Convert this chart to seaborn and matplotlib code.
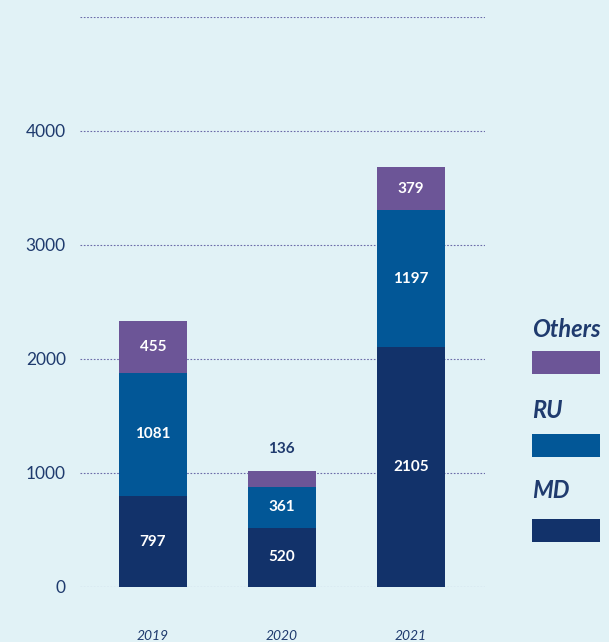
import numpy as np
import pandas as pd
import seaborn as sns
import matplotlib.pyplot as plt
from matplotlib.patches import Rectangle

years = ['2019', '2020', '2021']
md = [797, 520, 2105]
ru = [1081, 361, 1197]
others = [455, 136, 379]

colors = {'MD': '#12326a', 'RU': '#025797', 'Others': '#6c5597'}
bg = '#e1f2f6'
txt = '#1f3b6e'

sns.set_theme(style='white')
plt.rcParams['font.family'] = ['Lato', 'DejaVu Sans']

df = pd.DataFrame({'year': years, 'MD': md, 'RU': ru, 'Others': others})
df['md_ru'] = df['MD'] + df['RU']
df['total'] = df['md_ru'] + df['Others']

fig = plt.figure(figsize=(6.09, 6.42), dpi=100)
fig.patch.set_facecolor(bg)
ax = fig.add_axes([0.131, 0.0857, 0.665, 0.888])
ax.set_facecolor(bg)

# stacked bars drawn as cumulative layers
for col, c in [('total', colors['Others']), ('md_ru', colors['RU']), ('MD', colors['MD'])]:
    sns.barplot(data=df, x='year', y=col, color=c, width=0.53, saturation=1,
                linewidth=0, ax=ax, zorder=3)

# labels in the middle of each segment
for i in range(len(years)):
    ax.text(i, md[i] / 2, str(md[i]), ha='center', va='center', color='white',
            fontsize=11, fontweight='bold', zorder=5)
    ax.text(i, md[i] + ru[i] / 2, str(ru[i]), ha='center', va='center', color='white',
            fontsize=11, fontweight='bold', zorder=5)
    if others[i] > 200:
        ax.text(i, md[i] + ru[i] + others[i] / 2, str(others[i]), ha='center', va='center',
                color='white', fontsize=11, fontweight='bold', zorder=5)
    else:
        ax.text(i, df['total'][i] + 190, str(others[i]), ha='center', va='center',
                color=txt, fontsize=11, fontweight='bold', zorder=5)

ax.set_xlim(-0.566, 2.574)
ax.set_ylim(0, 5000)
ax.set_yticks([0, 1000, 2000, 3000, 4000, 5000])
ax.set_yticklabels(['0', '1000', '2000', '3000', '4000', ''])
ax.yaxis.grid(True, linestyle=(0, (1.5, 1.5)), color='#6a6aa8', linewidth=0.8, zorder=0)
ax.set_axisbelow(True)
ax.tick_params(axis='y', length=0, pad=10, labelsize=12.5, labelcolor=txt)
ax.tick_params(axis='x', length=0, pad=31, labelsize=10, labelcolor=txt)
for lab in ax.get_xticklabels():
    lab.set_fontstyle('italic')
ax.set_xlabel('')
ax.set_ylabel('')
for s in ax.spines.values():
    s.set_visible(False)

# legend on the right
W, H = 609, 642
leg = [('Others', 330, 351), ('RU', 410, 434), ('MD', 490, 519)]
for name, ty, ry in leg:
    fig.text(532 / W, 1 - ty / H, name, ha='left', va='center', fontsize=17,
             fontstyle='italic', fontweight='bold', color=txt)
    fig.patches.append(Rectangle((532 / W, 1 - (ry + 23) / H), 68 / W, 23 / H,
                                 transform=fig.transFigure, facecolor=colors[name],
                                 edgecolor='none'))

fig.savefig('out.png', dpi=100, facecolor=bg)
